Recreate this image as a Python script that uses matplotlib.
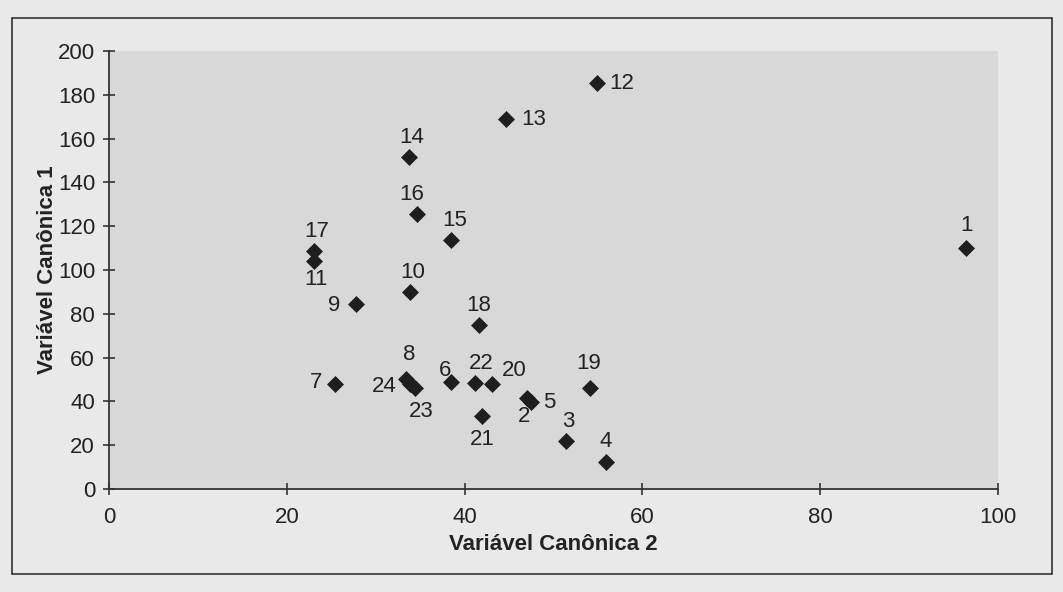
import matplotlib
matplotlib.use('Agg')
import matplotlib.pyplot as plt
from matplotlib.patches import Rectangle

plt.rcParams['font.family'] = ['Liberation Sans', 'DejaVu Sans']

# canonical scores for each sample
ids = [str(i) for i in range(1, 25)]
can2 = [96.4, 47.0, 51.4, 55.9, 47.5, 38.5, 25.4, 33.4, 27.8, 33.9, 23.1, 54.9,
        44.6, 33.7, 38.5, 34.6, 23.1, 41.6, 54.1, 43.1, 42.0, 41.2, 34.4, 33.8]
can1 = [109.9, 41.5, 21.9, 12.4, 39.8, 48.8, 47.8, 50.0, 84.6, 89.9, 104.2, 185.2,
        168.9, 151.7, 113.8, 125.7, 108.8, 74.8, 46.0, 47.9, 33.2, 48.6, 46.0, 48.0]

x_ticks = [0, 20, 40, 60, 80, 100]
y_ticks = [0, 20, 40, 60, 80, 100, 120, 140, 160, 180, 200]

# where each label sits relative to its marker (pixels, y up)
label_offsets = {
    '1': (0, 23), '2': (-3, -18), '3': (2, 20), '4': (0, 20), '5': (18, -1),
    '6': (-6, 12), '7': (-19, 2), '8': (3, 25), '9': (-22, -2), '10': (2, 20),
    '11': (2, -19), '12': (25, 0), '13': (28, 0), '14': (3, 19), '15': (3, 19),
    '16': (-5, 19), '17': (2, 19), '18': (0, 20), '19': (-1, 25), '20': (22, 14),
    '21': (0, -23), '22': (6, 19), '23': (6, -23), '24': (-25, -3),
}

FS = 16

fig = plt.figure(figsize=(10.63, 5.92), dpi=100)
fig.patch.set_facecolor('#e9e9e9')
ax = fig.add_axes([0.1025, 0.174, 0.8365, 0.740])
ax.set_facecolor('#d8d8d8')

ax.scatter(can2, can1, marker='D', s=75, color='#1e1e1e', zorder=3, linewidths=0)

for name, x, y in zip(ids, can2, can1):
    dx, dy = label_offsets[name]
    ax.annotate(name, (x, y), xytext=(dx, dy), textcoords='offset pixels',
                ha='center', va='center', fontsize=FS, color='#222222')

ax.set_xlim(0, 100)
ax.set_ylim(0, 200)
ax.set_xticks(x_ticks)
ax.set_yticks(y_ticks)

for side in ['top', 'right']:
    ax.spines[side].set_visible(False)
for side in ['left', 'bottom']:
    ax.spines[side].set_color('#333333')
    ax.spines[side].set_linewidth(1.3)

ax.tick_params(axis='both', direction='inout', length=8, width=1.2,
               color='#333333', labelsize=FS, labelcolor='#222222')
ax.tick_params(axis='x', pad=9)
ax.tick_params(axis='y', pad=6)

ax.set_xlabel('Variável Canônica 2', fontsize=FS, fontweight='bold',
              color='#222222', labelpad=4)
ax.set_ylabel('Variável Canônica 1', fontsize=FS, fontweight='bold',
              color='#222222', labelpad=0)

# chart frame
fig.patches.append(Rectangle((0.0113, 0.0304), 0.9784, 0.9392,
                             transform=fig.transFigure, fill=False,
                             edgecolor='#333333', linewidth=1.2))

fig.savefig('out.png', dpi=100, facecolor=fig.get_facecolor())
